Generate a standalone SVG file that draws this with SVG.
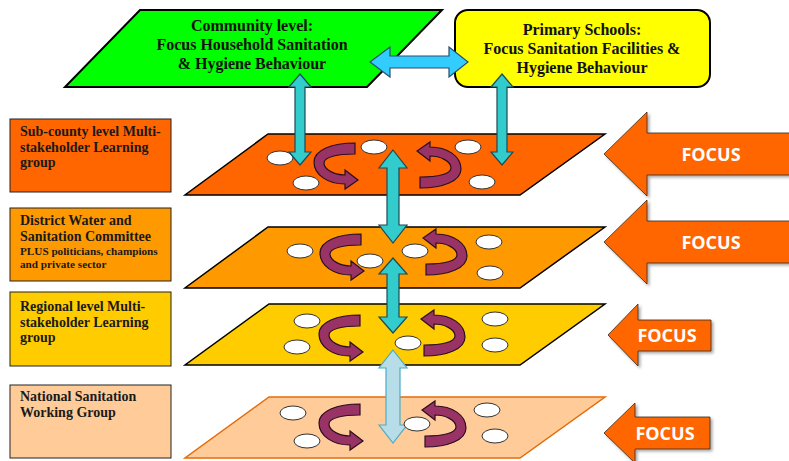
<svg xmlns="http://www.w3.org/2000/svg" width="789" height="461" viewBox="0 0 789 461">
<style>
.ttl{font-family:"Liberation Serif","Times New Roman",serif;font-weight:bold;font-size:16px;fill:#111;text-anchor:middle}
.lbl{font-family:"Liberation Serif","Times New Roman",serif;font-weight:bold;font-size:14px;fill:#1a1a1a}
.sml{font-family:"Liberation Serif","Times New Roman",serif;font-weight:bold;font-size:11.2px;fill:#1a1a1a}
.foc{font-family:"Open Sans","Noto Sans",sans-serif;font-weight:bold;font-size:18px;fill:#fff;text-anchor:middle}
.box{stroke:#222;stroke-width:1}
.layer{stroke:#000;stroke-width:1.5}
.hole{fill:#fff;stroke:#333;stroke-width:1}
.cyc{fill:#993366;stroke:#2b0f1e;stroke-width:1.2}
.teal{fill:#33CCCC;stroke:#1d4a55;stroke-width:1.2}
.focus{fill:#FF6600;stroke:#3a2a1a;stroke-width:0.8;filter:url(#sh)}
</style>
<defs>
<filter id="sh" x="-10%" y="-10%" width="130%" height="140%">
<feDropShadow dx="2" dy="2" stdDeviation="1.5" flood-color="#000" flood-opacity="0.35"/>
</filter>
<path id="cy" d="M19,-23 L19,-12 C1,-12 -12,-9 -12,-3 C-12,4 -1,9 9,9 L9,4 L22,14 L9,23 L9,18 C-8,18 -22,9 -22,-4 C-22,-16 -4,-23 19,-23 Z"/>
</defs>

<!-- left labels -->
<g id="label-subcounty">
<rect class="box" x="10" y="119" width="161" height="73" fill="#FF6600"/>
<text class="lbl" x="20" y="136">Sub-county level Multi-</text>
<text class="lbl" x="20" y="152">stakeholder Learning</text>
<text class="lbl" x="20" y="167">group</text>
</g>
<g id="label-district">
<rect class="box" x="10" y="208" width="161" height="73" fill="#FF9900"/>
<text class="lbl" x="20" y="225">District Water and</text>
<text class="lbl" x="20" y="241">Sanitation Committee</text>
<text class="sml" x="20" y="255">PLUS politicians, champions</text>
<text class="sml" x="20" y="268">and private sector</text>
</g>
<g id="label-regional">
<rect class="box" x="10" y="292" width="161" height="74" fill="#FFCC00"/>
<text class="lbl" x="20" y="311">Regional level Multi-</text>
<text class="lbl" x="20" y="327">stakeholder Learning</text>
<text class="lbl" x="20" y="342">group</text>
</g>
<g id="label-national">
<rect class="box" x="10" y="385" width="161" height="73" fill="#FFCC99"/>
<text class="lbl" x="20" y="401">National Sanitation</text>
<text class="lbl" x="20" y="417">Working Group</text>
</g>

<!-- top nodes -->
<g id="community">
<polygon points="140,10 442,10 367,87 65,87" fill="#00FF00" stroke="#000" stroke-width="2"/>
<text class="ttl" x="252" y="31">Community level:</text>
<text class="ttl" x="252" y="50">Focus Household Sanitation</text>
<text class="ttl" x="252" y="69">&amp; Hygiene Behaviour</text>
</g>
<g id="schools">
<rect x="455" y="10" width="255" height="77" rx="13" fill="#FFFF00" stroke="#000" stroke-width="2"/>
<text class="ttl" x="582" y="35">Primary Schools:</text>
<text class="ttl" x="582" y="54">Focus Sanitation Facilities &amp;</text>
<text class="ttl" x="582" y="73">Hygiene Behaviour</text>
</g>

<!-- layers -->
<g id="layer-subcounty">
<polygon class="layer" points="268,134 605,134 520,195 185,195" fill="#FF6600"/>
<ellipse class="hole" cx="280" cy="158" rx="13" ry="7"/>
<ellipse class="hole" cx="306" cy="183" rx="13" ry="7"/>
<ellipse class="hole" cx="374" cy="147" rx="13" ry="7"/>
<ellipse class="hole" cx="468" cy="147" rx="13" ry="7"/>
<ellipse class="hole" cx="482" cy="182" rx="13" ry="7"/>
<use href="#cy" class="cyc" transform="translate(336,166)"/>
<use href="#cy" class="cyc" transform="translate(439,165) rotate(180)"/>
</g>
<g id="layer-district">
<polygon class="layer" points="268,227 605,227 520,288 185,288" fill="#FF9900"/>
<ellipse class="hole" cx="300" cy="251" rx="13" ry="7"/>
<ellipse class="hole" cx="370" cy="261" rx="13" ry="7"/>
<ellipse class="hole" cx="415" cy="251" rx="13" ry="7"/>
<ellipse class="hole" cx="489" cy="242" rx="13" ry="7"/>
<ellipse class="hole" cx="490" cy="273" rx="13" ry="7"/>
<use href="#cy" class="cyc" transform="translate(342,257)"/>
<use href="#cy" class="cyc" transform="translate(445,252) rotate(180)"/>
</g>
<g id="layer-regional">
<polygon class="layer" points="269,304 605,304 520,365 185,365" fill="#FFCC00"/>
<ellipse class="hole" cx="307" cy="321" rx="13" ry="7"/>
<ellipse class="hole" cx="297" cy="347" rx="13" ry="7"/>
<ellipse class="hole" cx="408" cy="343" rx="13" ry="7"/>
<ellipse class="hole" cx="495" cy="319" rx="13" ry="7"/>
<ellipse class="hole" cx="495" cy="345" rx="13" ry="7"/>
<use href="#cy" class="cyc" transform="translate(341,338)"/>
<use href="#cy" class="cyc" transform="translate(443,333) rotate(180)"/>
</g>
<g id="layer-national">
<polygon points="269,397 605,397 520,458 185,458" fill="#FFCC99" stroke="#E46C0A" stroke-width="1.5"/>
<ellipse class="hole" cx="293" cy="413" rx="13" ry="7"/>
<ellipse class="hole" cx="307" cy="441" rx="13" ry="7"/>
<ellipse class="hole" cx="487" cy="410" rx="13" ry="7"/>
<ellipse class="hole" cx="495" cy="436" rx="13" ry="7"/>
<use href="#cy" class="cyc" transform="translate(341,427)"/>
<use href="#cy" class="cyc" transform="translate(444,424) rotate(180)"/>
</g>

<!-- connectors -->
<g id="connectors">
<polygon points="370,62 390,47 390,56 449,56 449,47 468,62 449,77 449,68 390,68 390,77" fill="#33CCFF" stroke="#2a4f6e" stroke-width="1.2"/>
<polygon class="teal" points="300,74 311,87 305,87 305,152 311,152 300,165 289,152 295,152 295,87 289,87"/>
<polygon class="teal" points="502,74 513,87 507,87 507,152 513,152 502,165 491,152 497,152 497,87 491,87"/>
<polygon class="teal" points="393,150 407,168 399,168 399,225 407,225 393,243 379,225 387,225 387,168 379,168"/>
<polygon class="teal" points="393,258 407,274 399,274 399,317 407,317 393,333 379,317 387,317 387,274 379,274"/>
<polygon points="393,350 407,368 400,368 400,425 407,425 393,443 379,425 386,425 386,368 379,368" fill="#B7DEE8" stroke="#4BACC6" stroke-width="1.2"/>
</g>
<g id="layer-national-hole">
<ellipse class="hole" cx="417" cy="424" rx="13" ry="7"/>
</g>

<!-- focus arrows -->
<g id="focus-1">
<polygon class="focus" points="604,154 647,112 647,133 795,133 795,175 647,175 647,196"/>
<text class="foc" x="711" y="161">FOCUS</text>
</g>
<g id="focus-2">
<polygon class="focus" points="604,242 647,200 647,221 795,221 795,263 647,263 647,284"/>
<text class="foc" x="711" y="249">FOCUS</text>
</g>
<g id="focus-3">
<polygon class="focus" points="608,335 638,304 638,320 711,320 711,351 638,351 638,366"/>
<text class="foc" x="667" y="342">FOCUS</text>
</g>
<g id="focus-4">
<polygon class="focus" points="604,433 635,403 635,417 710,417 710,449 635,449 635,463"/>
<text class="foc" x="665" y="440">FOCUS</text>
</g>
</svg>
